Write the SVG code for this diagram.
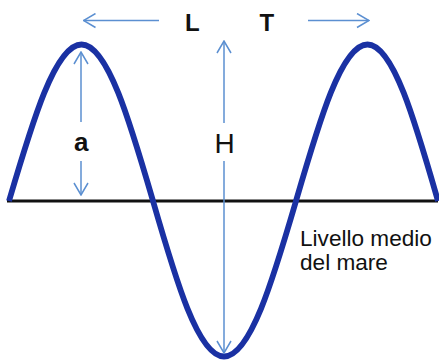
<svg xmlns="http://www.w3.org/2000/svg" width="439" height="363" viewBox="0 0 439 363">
<style>
.conn{stroke:#5b8fd1;stroke-width:1.5;fill:none;marker-end:url(#chev)}
.lbl{font-family:"Liberation Sans",Arial,sans-serif;fill:#111}
.b{font-weight:bold;font-size:24px}
</style>
<defs>
<marker id="chev" markerUnits="userSpaceOnUse" markerWidth="14" markerHeight="16" viewBox="-1 -8 14 16" refX="12" refY="0" orient="auto">
<path d="M0,-7 L12,0 L0,7" fill="none" stroke="#5b8fd1" stroke-width="1.5"/>
</marker>
</defs>
<rect width="439" height="363" fill="#fff"/>
<g id="baseline">
<line x1="7" y1="201" x2="438" y2="201" stroke="#111" stroke-width="3"/>
</g>
<g id="wave">
<path d="M9,201 C32.3,122 55.2,44.5 81.5,44.5 C107.5,44.5 130,122 153,201 C175.8,280 198.2,356.5 224,356.5 C250.2,356.5 272.9,280 296,201 C319,122 341.5,44.5 367.5,44.5 C393.1,44.5 415.3,122 438,201" fill="none" stroke="#1a31a3" stroke-width="5.8" stroke-linejoin="round"/>
</g>
<g id="connectors">
<path class="conn" d="M159,20.5 L83.5,20.5"/>
<path class="conn" d="M308,20.5 L369,20.5"/>
<path class="conn" d="M81,122 L81,52"/>
<path class="conn" d="M81,161 L81,195"/>
<path class="conn" d="M224,123 L224,41"/>
<path class="conn" d="M224,161 L224,353"/>
</g>
<g id="label-L"><text class="lbl b" x="185" y="30.5">L</text></g>
<g id="label-T"><text class="lbl b" x="259.5" y="30.5">T</text></g>
<g id="label-a"><text class="lbl" x="74" y="150.5" font-size="26" font-weight="bold">a</text></g>
<g id="label-H"><text class="lbl" x="214.5" y="152.5" font-size="28">H</text></g>
<g id="label-sea"><text class="lbl" font-size="22.6"><tspan x="300" y="246">Livello medio</tspan><tspan x="300" y="270">del mare</tspan></text></g>
</svg>
